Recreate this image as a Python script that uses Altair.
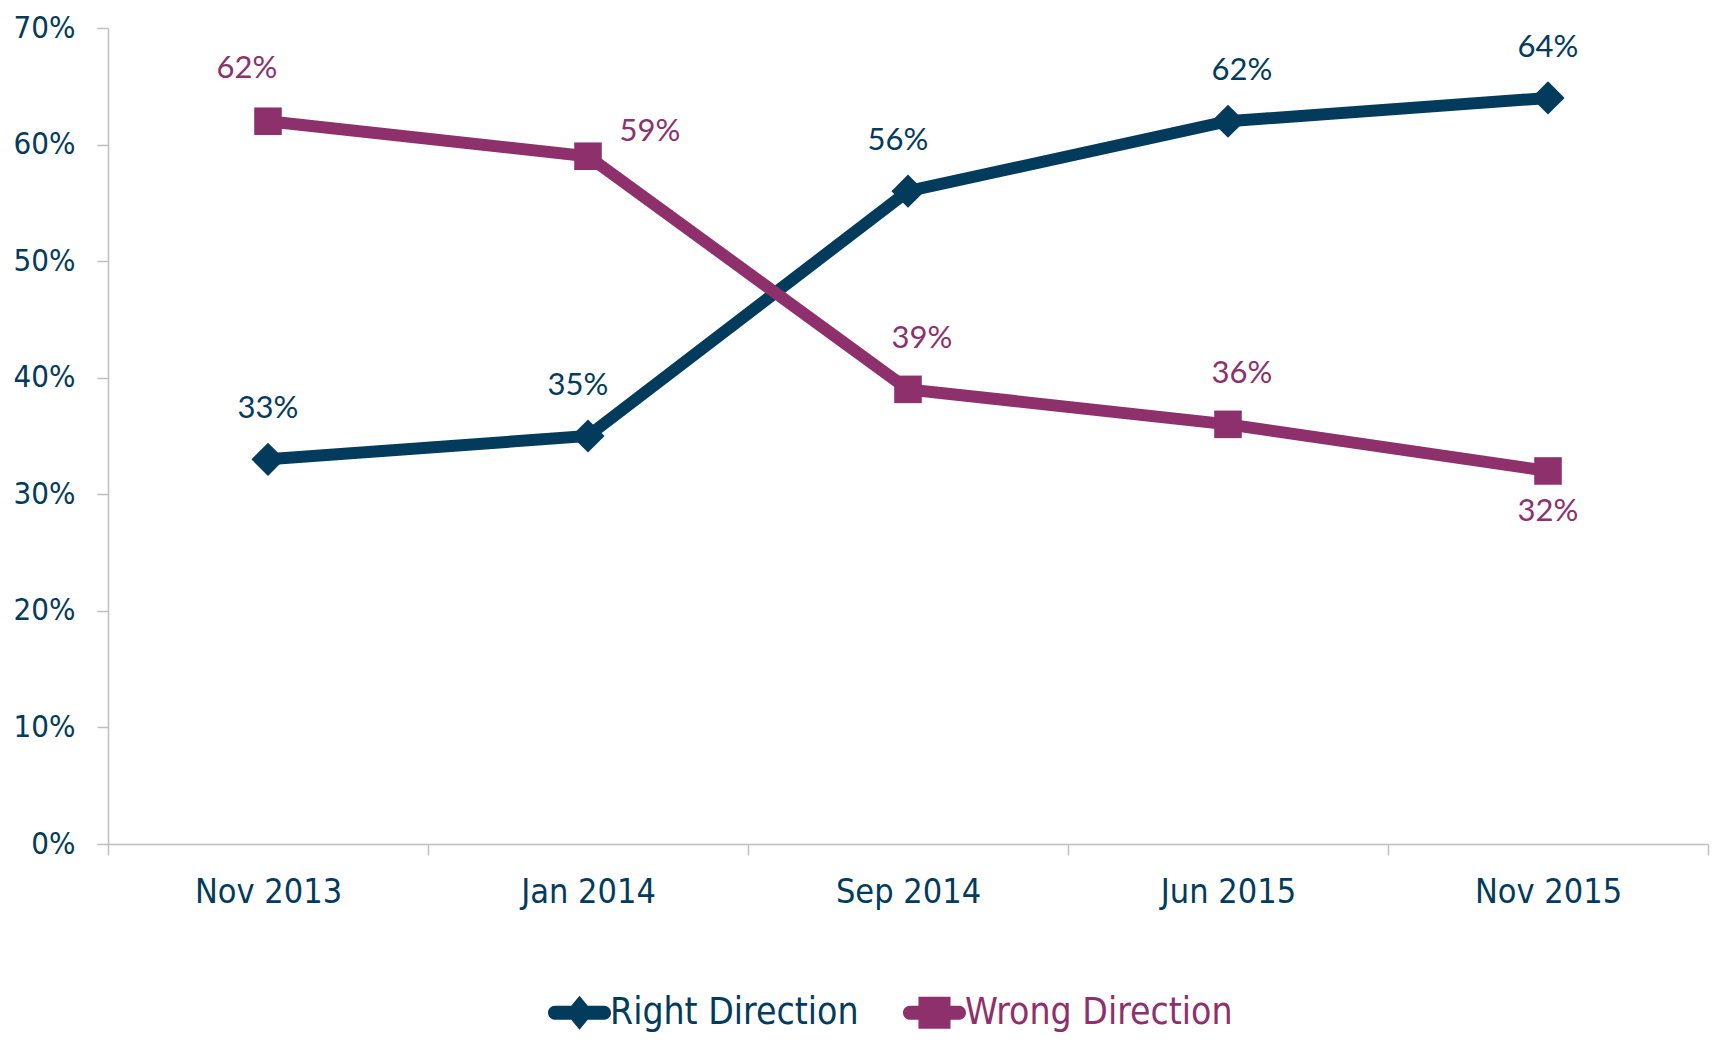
import altair as alt
import pandas as pd

dates = ["Nov 2013", "Jan 2014", "Sep 2014", "Jun 2015", "Nov 2015"]
series = ["Right Direction", "Wrong Direction"]
right_values = [33, 35, 56, 62, 64]
wrong_values = [62, 59, 39, 36, 32]
right_label_pos = ["up", "up_left", "up_left", "up_right", "up"]
wrong_label_pos = ["far_left", "right", "up_right", "up_right", "below"]
colors = ["#033B5C", "#8D306B"]
y_ticks = [0, 0.1, 0.2, 0.3, 0.4, 0.5, 0.6, 0.7]

rows = []
for i, d in enumerate(dates):
    rows.append({"date": d, "series": series[0], "value": right_values[i] / 100,
                 "pos": right_label_pos[i]})
    rows.append({"date": d, "series": series[1], "value": wrong_values[i] / 100,
                 "pos": wrong_label_pos[i]})
df = pd.DataFrame(rows)

NAVY = colors[0]
AXIS_GRAY = "#BFBFBF"
AXIS_FONT = "DejaVu Sans Condensed"
LABEL_FONT = "Lato"

# legend icons: rounded line with marker (custom symbol paths)
LINE = ("M-1.36,-0.39L1.36,-0.39A0.39,0.39 0 0 1 1.36,0.39"
        "L-1.36,0.39A0.39,0.39 0 0 1 -1.36,-0.39Z")
DIAMOND = "M0,-0.94L0.78,0L0,0.94L-0.78,0Z"
SQUARE = "M-0.89,-0.89L0.89,-0.89L0.89,0.89L-0.89,0.89Z"
label_color_expr = ("datum.value === '%s' ? '%s' : '%s'"
                    % (series[0], colors[0], colors[1]))

color_scale = alt.Scale(domain=series, range=colors)

x_enc = alt.X(
    "date:N", sort=dates, bandPosition=0.5,
    scale=alt.Scale(type="band", paddingInner=0, paddingOuter=0),
    axis=alt.Axis(title=None, labelAngle=0, tickBand="extent", grid=False,
                  labelFont=AXIS_FONT, labelFontSize=34, labelColor=NAVY,
                  labelPadding=20, tickSize=11, tickColor=AXIS_GRAY,
                  domainColor=AXIS_GRAY, domainWidth=1.5, tickWidth=1.5),
)
y_enc = alt.Y(
    "value:Q",
    scale=alt.Scale(domain=[0, 0.7], nice=False),
    axis=alt.Axis(title=None, values=y_ticks, format=".0%", grid=False,
                  labelFont=AXIS_FONT, labelFontSize=31, labelColor=NAVY,
                  labelPadding=22, tickSize=11, tickColor=AXIS_GRAY,
                  domainColor=AXIS_GRAY, domainWidth=1.5, tickWidth=1.5),
)


def make_legend(fancy=True):
    kw = dict(title=None, orient="none", legendX=453, legendY=966,
              direction="horizontal", symbolSize=1296, symbolStrokeWidth=0,
              symbolOpacity=1, labelFont=AXIS_FONT, labelFontSize=37,
              labelLimit=600, labelOffset=12, columnPadding=43)
    if fancy:
        kw["labelColor"] = alt.ExprRef(expr=label_color_expr)
    else:
        kw["labelColor"] = NAVY
    return alt.Legend(**kw)


def build(fancy=True):
    base = alt.Chart(df)
    legend_obj = make_legend(fancy)
    # legend-only layer (no rows drawn), placed first so its legend settings win
    legend_layer = base.transform_filter(alt.datum.value < 0).mark_point(
        filled=True, opacity=1, strokeWidth=0
    ).encode(
        color=alt.Color("series:N", scale=color_scale, legend=legend_obj),
        shape=alt.Shape("series:N",
                        scale=alt.Scale(domain=series,
                                        range=[LINE + " " + DIAMOND, LINE + " " + SQUARE]),
                        legend=legend_obj),
    )
    lines = base.mark_line(strokeWidth=12).encode(
        x=x_enc, y=y_enc,
        color=alt.Color("series:N", scale=color_scale, legend=None),
    )

    def points(name, shape, size):
        return base.transform_filter(alt.datum.series == name).mark_point(
            filled=True, opacity=1, strokeWidth=0, shape=shape, size=size
        ).encode(
            x=x_enc, y=y_enc,
            color=alt.Color("series:N", scale=color_scale, legend=None),
        )

    def labels(pos, dx, dy):
        return base.transform_filter(alt.datum.pos == pos).mark_text(
            font=LABEL_FONT, fontSize=31, dx=dx, dy=dy, baseline="middle", align="center"
        ).encode(
            x=x_enc, y=y_enc,
            text=alt.Text("value:Q", format=".0%"),
            color=alt.Color("series:N", scale=color_scale, legend=None),
        )

    chart = alt.layer(
        legend_layer,
        lines,
        points(series[0], "diamond", 1100),
        points(series[1], "square", 760),
        labels("up", 0, -50),
        labels("up_left", -10, -50),
        labels("up_right", 14, -50),
        labels("far_left", -21, -52),
        labels("right", 62, -24),
        labels("below", 0, 41),
    ).properties(
        width=1600, height=816,
        autosize=alt.AutoSizeParams(type="none"),
        padding={"left": 100, "top": 20, "right": 3, "bottom": 191},
    ).configure_view(stroke=None)
    chart.to_dict()
    return chart


try:
    chart = build(True)
except Exception:
    chart = build(False)

chart.save("out.html", embed_options={"renderer": "svg", "actions": False})
